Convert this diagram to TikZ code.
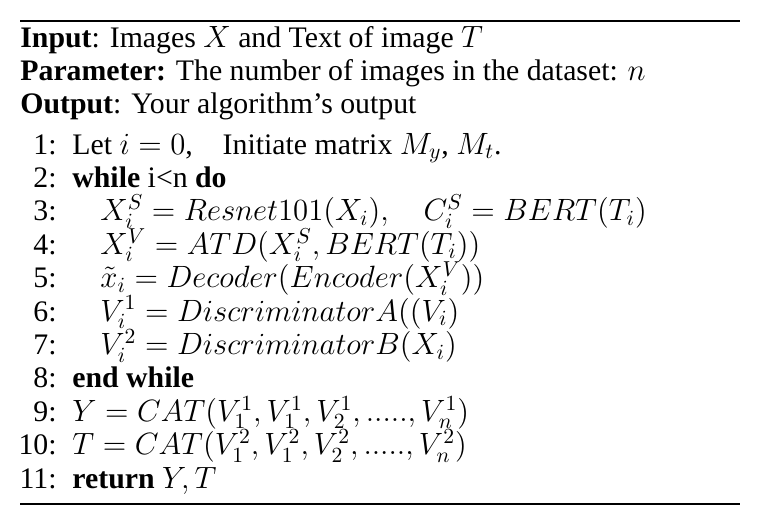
\RequirePackage{fix-cm}
\documentclass[tikz,border=0pt]{standalone}
\usepackage{fontspec}
\setmainfont{Liberation Serif}
\DeclareMathSizes{14.9}{15.4}{10.8}{7.7}
\tikzset{
  algline/.style={anchor=base west,inner sep=0pt,font=\fontsize{14.9}{17}\selectfont},
  algnum/.style={anchor=base east,inner sep=0pt,font=\fontsize{14.9}{17}\selectfont},
  toprule/.style={line width=1.2pt},
  botrule/.style={line width=0.7pt}
}
\begin{document}
\begin{tikzpicture}[x=0.5pt,y=-0.5pt]
  \useasboundingbox (0,0) rectangle (759,525);
  \coordinate (tl) at (20,21);
  \coordinate (tr) at (740,21);
  \coordinate (bl) at (20,504);
  \coordinate (br) at (740,504);
  \draw [toprule] (tl) -- (tr);
  \draw [botrule] (bl) -- (br);

  \begin{scope}[every node/.style={algline}]
    \node (input) at (20,47) {\textbf{Input}: Images $X$ and Text of image $T$};
    \node (param) at (20,80) {\textbf{Parameter:} The number of images in the dataset: $n$};
    \node (output) at (20,113) {\textbf{Output}: Your algorithm's output};
    \node (l1) at (72,154) {Let $i=0$,\quad Initiate matrix $M_y$, $M_t$.};
    \node (l2) at (72,187.4) {\textbf{while} i<n \textbf{do}};
    \node (l3) at (100,220.8) {$X_i^S = Resnet101(X_i),\quad C_i^S = BERT(T_i)$};
    \node (l4) at (100,254.2) {$X_i^V = ATD(X_i^S, BERT(T_i))$};
    \node (l5) at (100,287.6) {$\tilde{x}_i = Decoder(Encoder(X_i^V))$};
    \node (l6) at (100,321) {$V_i^1 = DiscriminatorA((V_i)$};
    \node (l7) at (100,354.4) {$V_i^2 = DiscriminatorB(X_i)$};
    \node (l8) at (72,387.8) {\textbf{end while}};
    \node (l9) at (72,421.2) {$Y = CAT(V_1^1, V_1^1, V_2^1, ....., V_n^1)$};
    \node (l10) at (72,454.6) {$T = CAT(V_1^2, V_1^2, V_2^2, ....., V_n^2)$};
    \node (l11) at (72,488) {\textbf{return} $Y, T$};
  \end{scope}

  \begin{scope}[every node/.style={algnum}]
    \node (n1) at (57,154) {1:};
    \node (n2) at (57,187.4) {2:};
    \node (n3) at (57,220.8) {3:};
    \node (n4) at (57,254.2) {4:};
    \node (n5) at (57,287.6) {5:};
    \node (n6) at (57,321) {6:};
    \node (n7) at (57,354.4) {7:};
    \node (n8) at (57,387.8) {8:};
    \node (n9) at (57,421.2) {9:};
    \node (n10) at (57,454.6) {10:};
    \node (n11) at (57,488) {11:};
  \end{scope}
\end{tikzpicture}
\end{document}
